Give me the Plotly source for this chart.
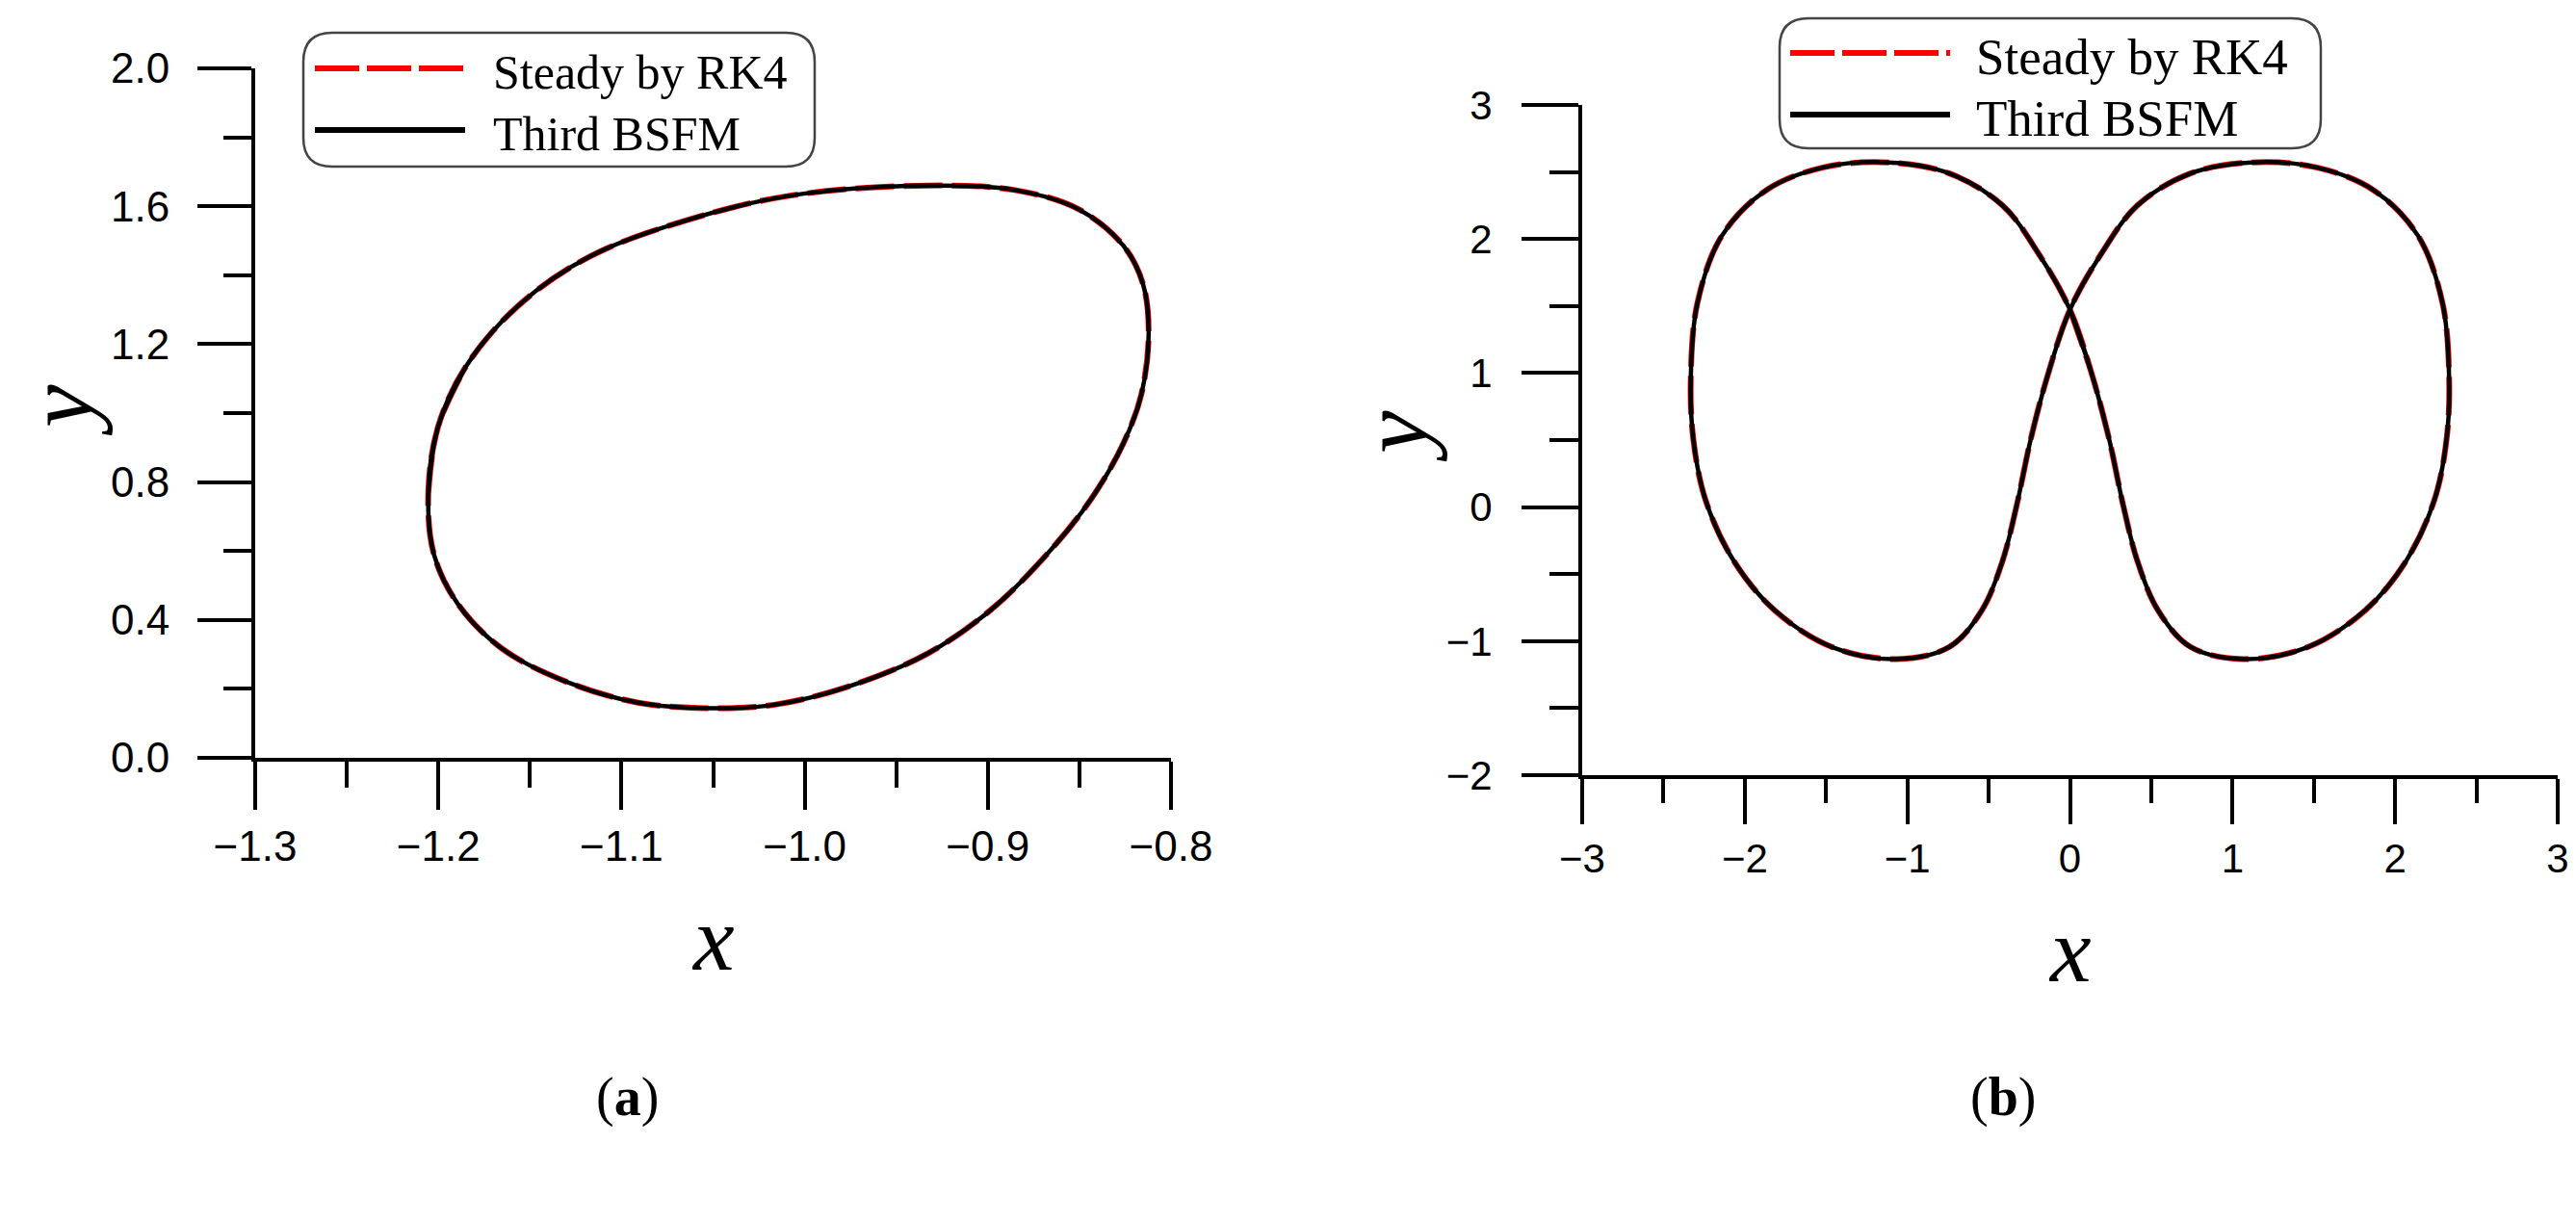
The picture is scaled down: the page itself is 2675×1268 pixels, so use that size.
import plotly.graph_objects as go

# canvas size in px
W, H = 2675, 1268

# (a) limit cycle
cycle_a_x = [-1.2055, -1.2003, -1.185, -1.1565, -1.117, -1.0647, -1.0078, -0.933,
             -0.8853, -0.8503, -0.8262, -0.8153, -0.8122, -0.8162, -0.8262, -0.8437,
             -0.8678, -0.8984, -0.9334, -0.9772, -1.0165, -1.0515, -1.0909, -1.1303,
             -1.1653, -1.1893, -1.2024, -1.2055, -1.2003, -1.185]
cycle_a_y = [0.766, 0.958, 1.135, 1.311, 1.455, 1.559, 1.631, 1.660,
             1.647, 1.591, 1.487, 1.375, 1.231, 1.054, 0.910, 0.750,
             0.590, 0.429, 0.301, 0.205, 0.154, 0.144, 0.160, 0.221,
             0.317, 0.446, 0.590, 0.766, 0.958, 1.135]

# (b) figure-eight orbit
cycle_b_x = [0.0, 0.140, 0.240, 0.330, 0.415, 0.541, 0.741, 1.066, 1.466, 1.817,
             2.067, 2.242, 2.317, 2.332, 2.292, 2.142, 1.867, 1.517, 1.116, 0.741,
             0.415, 0.190, 0.0, -0.140, -0.240, -0.330, -0.415, -0.541, -0.741, -1.066,
             -1.466, -1.817, -2.067, -2.242, -2.317, -2.332, -2.292, -2.142, -1.867,
             -1.517, -1.116, -0.741, -0.415, -0.190, 0.0, 0.140, 0.240]
cycle_b_y = [1.473, 0.970, 0.512, 0.0, -0.403, -0.769, -1.043, -1.134, -1.043, -0.769,
             -0.403, 0.055, 0.512, 0.970, 1.519, 2.022, 2.365, 2.534, 2.571, 2.489,
             2.251, 1.885, 1.473, 0.970, 0.512, 0.0, -0.403, -0.769, -1.043, -1.134,
             -1.043, -0.769, -0.403, 0.055, 0.512, 0.970, 1.519, 2.022, 2.365,
             2.534, 2.571, 2.489, 2.251, 1.885, 1.473, 0.970, 0.512]

legend_names = ["Steady by RK4", "Third BSFM"]
panel_labels = ["a", "b"]

SERIF = "Liberation Serif"
SANS = "Liberation Sans"


def fx(p):
    return p / W


def fy(p):
    return 1 - p / H


def rounded_box(x0, y0, x1, y1, r):
    """Rounded rectangle path in paper coords from a pixel box."""
    pts = [
        ("M", fx(x0 + r), fy(y0)),
        ("L", fx(x1 - r), fy(y0)),
        ("Q", fx(x1), fy(y0), fx(x1), fy(y0 + r)),
        ("L", fx(x1), fy(y1 - r)),
        ("Q", fx(x1), fy(y1), fx(x1 - r), fy(y1)),
        ("L", fx(x0 + r), fy(y1)),
        ("Q", fx(x0), fy(y1), fx(x0), fy(y1 - r)),
        ("L", fx(x0), fy(y0 + r)),
        ("Q", fx(x0), fy(y0), fx(x0 + r), fy(y0)),
    ]
    out = ""
    for p in pts:
        out += p[0] + " " + " ".join(f"{v:.5f}" for v in p[1:]) + " "
    return out + "Z"


fig = go.Figure()

panels = [
    dict(x=cycle_a_x, y=cycle_a_y, xa="x", ya="y"),
    dict(x=cycle_b_x, y=cycle_b_y, xa="x2", ya="y2"),
]
for p in panels:
    fig.add_trace(go.Scatter(x=p["x"], y=p["y"], xaxis=p["xa"], yaxis=p["ya"],
                             mode="lines", name=legend_names[0],
                             line=dict(color="#ff0000", width=6, dash="40px,10px",
                                       shape="spline", smoothing=1.0)))
    fig.add_trace(go.Scatter(x=p["x"], y=p["y"], xaxis=p["xa"], yaxis=p["ya"],
                             mode="lines", name=legend_names[1],
                             line=dict(color="#000000", width=4.5,
                                       shape="spline", smoothing=1.0)))


def axis(dom, rng, dtick, mdtick, tlen, mlen, fmt, horiz, fsize, standoff=0):
    return dict(
        domain=[fx(dom[0]), fx(dom[1])] if horiz else [fy(dom[1]), fy(dom[0])],
        range=rng, dtick=dtick, tick0=rng[0], tickformat=fmt,
        automargin=False,
        showgrid=False, zeroline=False, showline=True,
        linecolor="black", linewidth=4,
        ticks="outside", ticklen=tlen, tickwidth=4, tickcolor="black",
        ticklabelstandoff=standoff,
        minor=dict(ticks="outside", dtick=mdtick, ticklen=mlen, tickwidth=4,
                   tickcolor="black", showgrid=False),
        tickfont=dict(family=SANS, size=fsize, color="black"),
        fixedrange=True,
    )


fig.update_layout(
    width=W, height=H,
    margin=dict(l=0, r=0, t=0, b=0, autoexpand=False),
    paper_bgcolor="white", plot_bgcolor="white",
    showlegend=False,
    xaxis=dict(axis([257, 1208], [-1.3, -0.8], 0.1, 0.05, 50, 27, ".1f", True, 44),
               anchor="y"),
    yaxis=dict(axis([63, 779], [0, 2.0], 0.4, 0.2, 56, 29, ".1f", False, 44, 20),
               anchor="x"),
    xaxis2=dict(axis([1635, 2648], [-3, 3], 1, 0.5, 47, 25, "d", True, 42),
                anchor="y2"),
    yaxis2=dict(axis([101, 797], [-2, 3], 1, 0.5, 59, 30, "d", False, 42, 22),
                anchor="x2"),
)

# hand-drawn legends: box, sample lines, labels
legends = [
    dict(box=(307, 26, 838, 165), line=(319, 475), rows=(63, 127), tx=502, fs=50),
    dict(box=(1840, 11, 2402, 146), line=(1851, 2017), rows=(47, 111), tx=2042, fs=53),
]
shapes = []
annotations = []
for lg in legends:
    x0, y0, x1, y1 = lg["box"]
    shapes.append(dict(type="path", xref="paper", yref="paper",
                       path=rounded_box(x0, y0, x1, y1, 30),
                       line=dict(color="#444444", width=2.5)))
    la, lb = lg["line"]
    r1, r2 = lg["rows"]
    shapes.append(dict(type="line", xref="paper", yref="paper",
                       x0=fx(la), x1=fx(lb), y0=fy(r1), y1=fy(r1),
                       line=dict(color="#ff0000", width=6, dash="46px,8px")))
    shapes.append(dict(type="line", xref="paper", yref="paper",
                       x0=fx(la), x1=fx(lb), y0=fy(r2), y1=fy(r2),
                       line=dict(color="black", width=6)))
    for name, r in zip(legend_names, (r1, r2)):
        annotations.append(dict(xref="paper", yref="paper", x=fx(lg["tx"]), y=fy(r + 4),
                                text=name, showarrow=False, xanchor="left",
                                yanchor="middle",
                                font=dict(family=SERIF, size=lg["fs"], color="black")))

# axis titles
titles = [((732, 966), (55, 418)), ((2141, 978), (1440, 445))]
for (xx, yx) in titles:
    annotations.append(dict(xref="paper", yref="paper", x=fx(xx[0]), y=fy(xx[1]),
                            text="<i>x</i>", showarrow=False,
                            xanchor="center", yanchor="middle",
                            font=dict(family=SERIF, size=96, color="black")))
    annotations.append(dict(xref="paper", yref="paper", x=fx(yx[0]), y=fy(yx[1]),
                            text="<i>y</i>", showarrow=False, textangle=-90,
                            xanchor="center", yanchor="middle",
                            font=dict(family=SERIF, size=100, color="black")))

# panel captions
for lab, cx in zip(panel_labels, (643, 2072)):
    annotations.append(dict(xref="paper", yref="paper", x=fx(cx), y=fy(1131),
                            text=f"(<b>{lab}</b>)", showarrow=False,
                            xanchor="center", yanchor="middle",
                            font=dict(family=SERIF, size=56, color="black")))

fig.update_layout(shapes=shapes, annotations=annotations)

fig.write_html("out.html")
